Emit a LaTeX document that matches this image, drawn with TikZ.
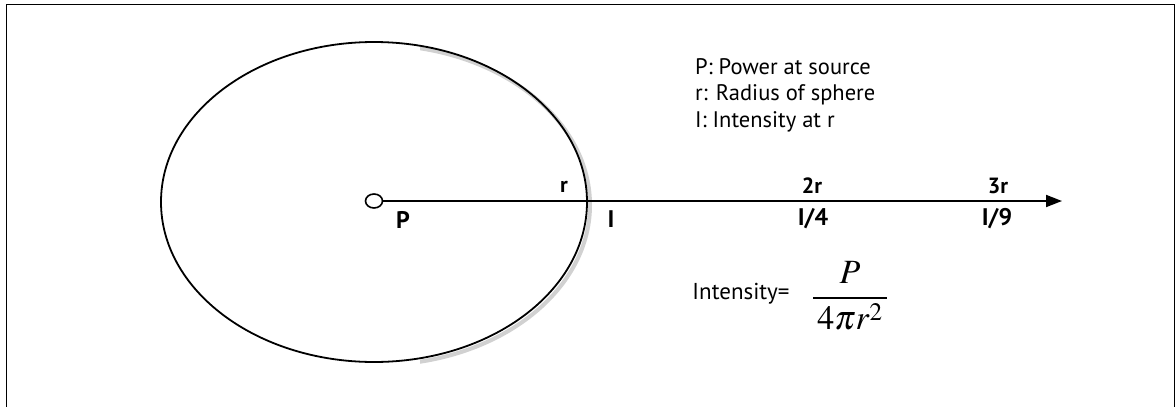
\documentclass[tikz,border=0pt]{standalone}
\usepackage{mathptmx}
\usepackage[no-math]{fontspec}
\setmainfont{PT Sans}
\usetikzlibrary{arrows.meta,shapes.geometric}
\begin{document}
\begin{tikzpicture}[x=1pt,y=-1pt,
  lbl/.style={font=\bfseries\fontsize{22}{26}\selectfont, inner sep=0pt},
  lblb/.style={font=\bfseries\fontsize{24}{28}\selectfont, inner sep=0pt},
  legend/.style={font=\fontsize{22.5}{26.5}\selectfont, align=left, inner sep=0pt, anchor=north west},
  thick line/.style={line width=1.8pt},
]
\useasboundingbox (0,0) rectangle (1176,407);
% frame (open at bottom)
\draw[line width=1.6pt] (6.5,430) -- (6.5,4.5) -- (1174.5,4.5) -- (1174.5,430);
% sphere with a soft shadow on the lower right
\begin{scope}
\clip (420,0) rectangle (700,407);
\node[draw=black!18, line width=4pt, ellipse, minimum width=426, minimum height=320, inner sep=0pt] (shadow) at (377,205) {};
\end{scope}
\node[draw, thick line, ellipse, minimum width=426, minimum height=320, inner sep=0pt] (sphere) at (374,202) {};
% source
\node[draw, line width=1.6pt, ellipse, minimum width=17, minimum height=14, inner sep=0pt, fill=white] (src) at (374,201) {};
\coordinate (tip) at (1062,201);
\draw[thick line, -{Triangle[length=16pt,width=12pt]}] (src) -- (tip);
% labels
\node[lbl] (r1) at (564,187) {r};
\node[lbl] (r2) at (812,186) {2r};
\node[lbl] (r3) at (998,186) {3r};
\node[lblb] (P) at (403,220) {P};
\node[lblb] (I1) at (611,219) {I};
\node[lblb] (I2) at (813,219) {I/4};
\node[lblb] (I3) at (997,219) {I/9};
% legend
\node[legend] (leg) at (695,58) {P: Power at source\\r: Radius of sphere\\I: Intensity at r};
% formula
\node[font=\fontsize{23}{27}\selectfont, inner sep=0pt] (intens) at (741,294) {Intensity=};
\node[font=\fontsize{34}{38}\selectfont, inner sep=0pt] (frac) at (850,296) {$\displaystyle\frac{P}{\,4\pi r^{2}\,}$};
\end{tikzpicture}
\end{document}
